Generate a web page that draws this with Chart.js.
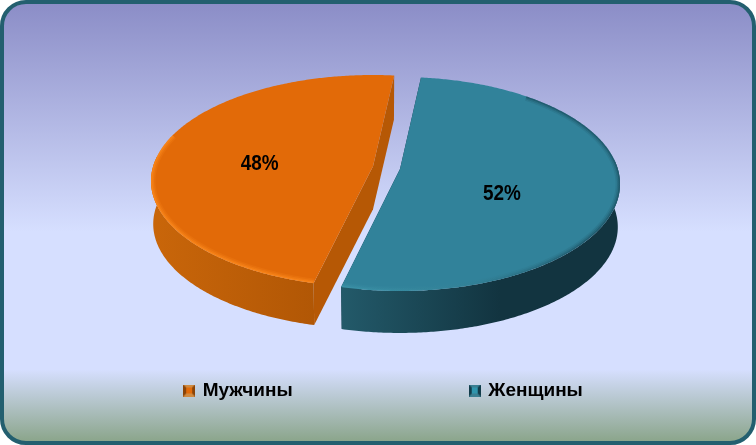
<!DOCTYPE html>
<html>
<head>
<meta charset="utf-8">
<style>
html, body { margin: 0; padding: 0; background: #fff; }
#wrap { width: 756px; height: 445px; }
</style>
<script src="https://cdn.jsdelivr.net/npm/chart.js@4/dist/chart.umd.min.js"></script>
</head>
<body>
<div id="wrap"><canvas id="pie" width="756" height="445"></canvas></div>
<script>
var categories = ["Мужчины", "Женщины"];
var shares = [48, 52];
var sliceColors = ["#e26a08", "#31829a"];

// per slice look of the fake 3D pie, same order as categories
var sliceLook = [
    { cx: 373, cy: 181, a: 222, b: 106, wall: ["#c9660a", "#a04c02"], wallFrom: 151, wallTo: 433, face: "#b65805",
      rim: [[0, "rgba(255,140,30,1)"], [1, "rgba(255,140,30,1)"]], rimFrom: 193.5, rimTo: 288, rimAlpha: 1.5, labelR: 0.53, labelDy: 7 },
    { cx: 400, cy: 184, a: 220, b: 107, wall: ["#235a6a", "#123440"], wallFrom: 340, wallTo: 500, face: "#123440",
      rim: [[0, "rgba(70,165,185,1)"], [0.45, "rgba(50,125,145,1)"], [0.8, "rgba(18,60,75,1)"], [1, "rgba(18,60,75,1)"]], rimFrom: 40, rimTo: 193.5, rimAlpha: 1, labelR: 0.47, labelDy: 16 }
];
var tilt = -0.14;
var depth = 43;
var bottomScale = 0.99;

function project(look, angle, r, scale, dy) {
    var x = Math.cos(angle) * r;
    var y = Math.sin(angle) * r;
    var w = 1 + tilt * y;
    return {
        x: look.cx + look.a * scale * x * Math.sqrt(1 - tilt * tilt) / w,
        y: look.cy + dy + look.b * scale * (y + tilt) / w
    };
}

function edge(ctx, look, a0, a1, scale, dy, first) {
    var steps = Math.ceil(Math.abs(a1 - a0) / 0.01);
    for (var i = 0; i <= steps; i++) {
        var p = project(look, a0 + (a1 - a0) * i / steps, 1, scale, dy);
        if (i == 0 && first) ctx.moveTo(p.x, p.y);
        else ctx.lineTo(p.x, p.y);
    }
}

// part of the slice's arc that faces the viewer
function frontRange(a0, a1) {
    var from = null, to = null;
    for (var a = a0; a <= a1; a += 0.01) {
        if (Math.sin(a) >= -0.1) {
            if (from === null) from = a;
            to = a;
        }
    }
    return [from, a1 < to + 0.01 ? a1 : to];
}

function drawSlice(ctx, look, arc) {
    var a0 = arc.startAngle, a1 = arc.endAngle;
    var apex = project(look, 0, 0, 1, 0);
    var apexLow = project(look, 0, 0, bottomScale, depth);

    // the two cut faces
    [a0, a1].forEach(function(a) {
        var top = project(look, a, 1, 1, 0);
        var low = project(look, a, 1, bottomScale, depth);
        ctx.beginPath();
        ctx.moveTo(apex.x, apex.y);
        ctx.lineTo(top.x, top.y);
        ctx.lineTo(low.x, low.y);
        ctx.lineTo(apexLow.x, apexLow.y);
        ctx.closePath();
        ctx.fillStyle = look.face;
        ctx.fill();
    });

    // outer wall
    var front = frontRange(a0, a1);
    var grad = ctx.createLinearGradient(look.wallFrom, 0, look.wallTo, 0);
    grad.addColorStop(0, look.wall[0]);
    grad.addColorStop(1, look.wall[1]);
    ctx.beginPath();
    edge(ctx, look, front[0], front[1], 1, 0, true);
    edge(ctx, look, front[1], front[0], bottomScale, depth, false);
    ctx.closePath();
    ctx.fillStyle = grad;
    ctx.fill();

    // top surface
    ctx.beginPath();
    ctx.moveTo(apex.x, apex.y);
    edge(ctx, look, a0, a1, 1, 0, false);
    ctx.closePath();
    ctx.fillStyle = arc.options.backgroundColor;
    ctx.fill();

    // soft rim along the edge, clipped to the top surface
    ctx.save();
    ctx.clip();
    var rimGrad = ctx.createLinearGradient(look.cx - look.a * 0.4, look.cy + look.b, look.cx + look.a, look.cy - look.b * 0.3);
    look.rim.forEach(function(s) { rimGrad.addColorStop(s[0], s[1]); });
    ctx.strokeStyle = rimGrad;
    ctx.lineJoin = "round";
    [[9, 0.12], [6, 0.2], [3, 0.35]].forEach(function(w) {
        ctx.beginPath();
        edge(ctx, look, look.rimFrom * Math.PI / 180 - Math.PI / 2, look.rimTo * Math.PI / 180 - Math.PI / 2, 1, 0, true);
        ctx.lineWidth = w[0];
        ctx.globalAlpha = w[1] * look.rimAlpha;
        ctx.stroke();
    });
    ctx.restore();
}

function makeSwatch(color, dark, light) {
    var c = document.createElement("canvas");
    c.width = 12; c.height = 12;
    var g = c.getContext("2d");
    g.fillStyle = dark; g.fillRect(0, 0, 12, 12);
    g.fillStyle = light;
    g.beginPath(); g.moveTo(0, 0); g.lineTo(12, 0); g.lineTo(9, 3); g.lineTo(3, 3); g.closePath(); g.fill();
    g.beginPath(); g.moveTo(0, 12); g.lineTo(12, 12); g.lineTo(9, 9); g.lineTo(3, 9); g.closePath(); g.fill();
    g.fillStyle = color; g.fillRect(3, 3, 6, 6);
    return c;
}

var swatches = [
    makeSwatch("#e26a08", "#8a4408", "#d08a40"),
    makeSwatch("#2f95ad", "#123c4a", "#3a7f92")
];

var panelPlugin = {
    id: "panel",
    afterLayout: function(chart) {
        // nudge the legend, padding alone would wrap it
        chart.legend.left += 6;
        chart.legend.right += 6;
    },
    beforeDraw: function(chart) {
        var ctx = chart.ctx;
        var grad = ctx.createLinearGradient(0, 0, 0, 445);
        grad.addColorStop(0, "#8a8cc6");
        grad.addColorStop(0.52, "#d6dfff");
        grad.addColorStop(0.83, "#d6dfff");
        grad.addColorStop(1, "#87a285");
        ctx.save();
        ctx.beginPath();
        ctx.roundRect(2, 2, 752, 441, 24);
        ctx.fillStyle = grad;
        ctx.fill();
        ctx.lineWidth = 4;
        ctx.strokeStyle = "#235f6f";
        ctx.stroke();
        ctx.restore();
    }
};

var pie3dPlugin = {
    id: "pie3d",
    beforeDatasetsDraw: function(chart) {
        var ctx = chart.ctx;
        var arcs = chart.getDatasetMeta(0).data;
        ctx.save();
        arcs.forEach(function(arc, i) {
            drawSlice(ctx, sliceLook[i], arc);
        });
        arcs.forEach(function(arc, i) {
            var look = sliceLook[i];
            var p = project(look, (arc.startAngle + arc.endAngle) / 2, look.labelR, 1, look.labelDy);
            ctx.save();
            ctx.translate(p.x, p.y);
            ctx.scale(0.86, 1);
            ctx.font = "bold 22px 'Liberation Sans'";
            ctx.textAlign = "center";
            ctx.textBaseline = "middle";
            ctx.fillStyle = "#000";
            ctx.fillText(shares[i] + "%", 0, 0);
            ctx.restore();
        });
        ctx.restore();
        return false;
    }
};

new Chart(document.getElementById("pie"), {
    type: "pie",
    data: {
        labels: categories,
        datasets: [{ data: shares, backgroundColor: sliceColors, borderWidth: 0 }]
    },
    options: {
        responsive: false,
        animation: false,
        rotation: 193.5,
        layout: { padding: { bottom: 39 } },
        plugins: {
            tooltip: { enabled: false },
            legend: {
                position: "bottom",
                labels: {
                    usePointStyle: true,
                    boxWidth: 8,
                    padding: 178,
                    color: "#000",
                    font: { family: "'Liberation Sans'", size: 19, weight: "bold" },
                    generateLabels: function() {
                        return categories.map(function(name, i) {
                            return { text: name, fillStyle: sliceColors[i], strokeStyle: sliceColors[i], lineWidth: 0, pointStyle: swatches[i], index: i };
                        });
                    }
                }
            }
        }
    },
    plugins: [panelPlugin, pie3dPlugin]
});
</script>
</body>
</html>
